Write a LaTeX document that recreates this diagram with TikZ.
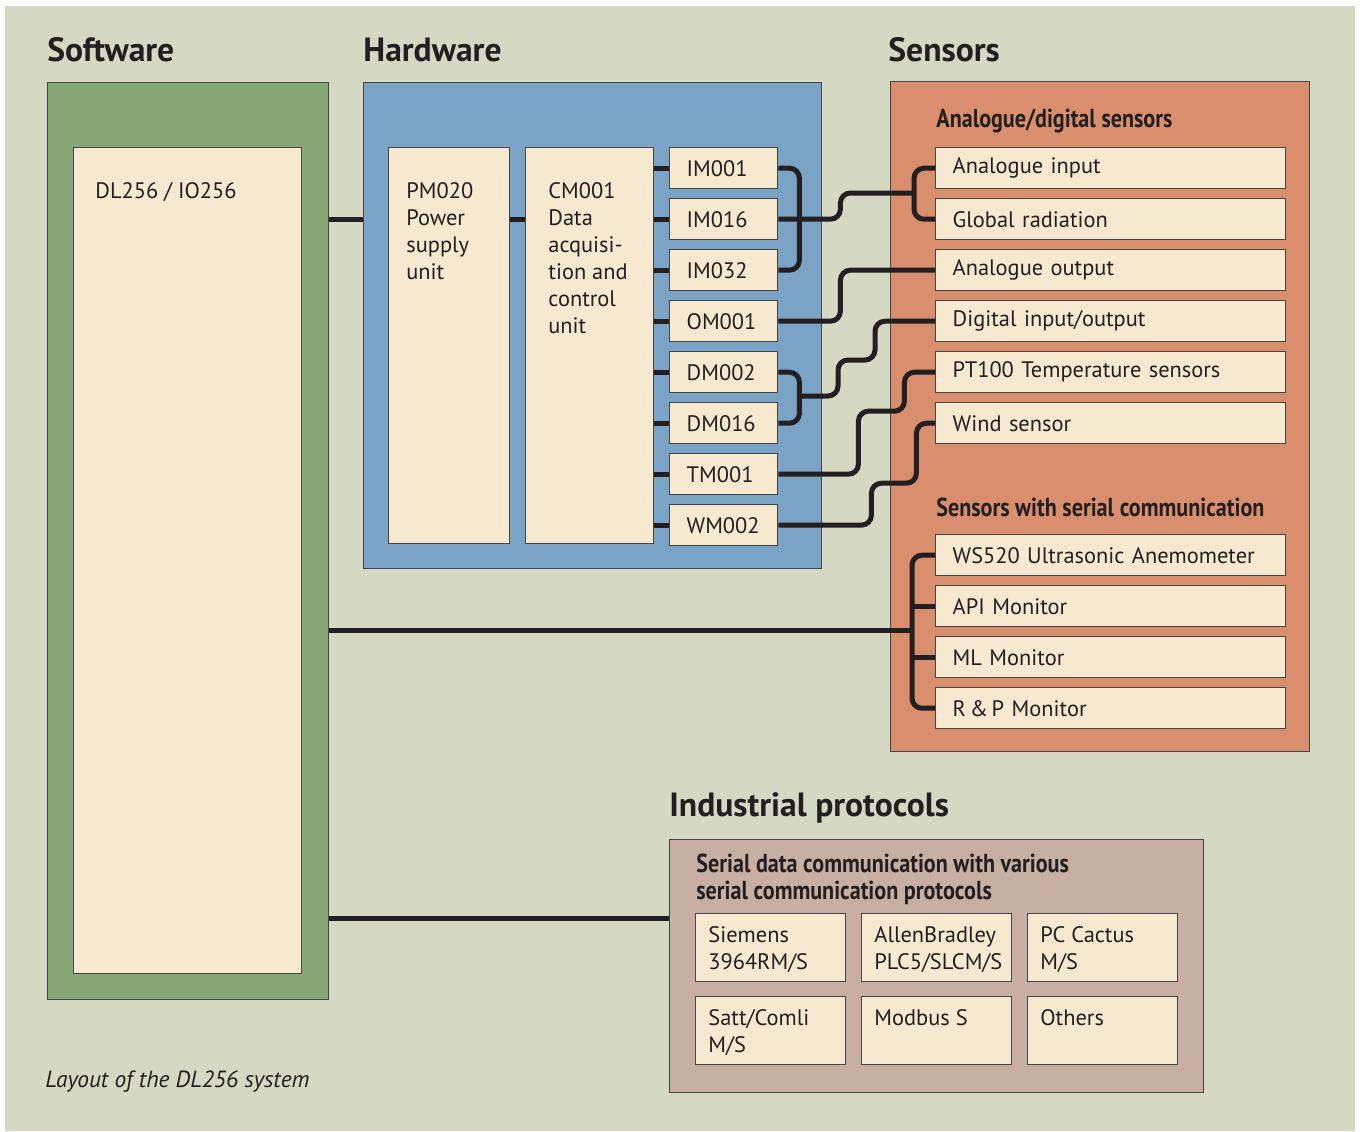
\documentclass[tikz,border=0pt]{standalone}
\usepackage{fontspec}
\setmainfont{PT Sans}
\newfontfamily\condfont[FakeStretch=0.85]{PT Sans}
\usetikzlibrary{positioning}

\definecolor{bggray}{HTML}{D5D8C2}
\definecolor{softgreen}{HTML}{87A876}
\definecolor{hwblue}{HTML}{7AA3C5}
\definecolor{sensorange}{HTML}{D98F6E}
\definecolor{protobrown}{HTML}{C8AFA3}
\definecolor{creamy}{HTML}{F7E8D0}
\definecolor{inkdark}{HTML}{231F20}
\definecolor{edgegray}{HTML}{454545}

\tikzset{
  panel/.style={draw=edgegray, line width=0.7pt, anchor=north west, inner sep=0pt},
  cbox/.style={panel, fill=creamy},
  modbox/.style={cbox, minimum height=20.5pt, text width=37pt, inner xsep=8.5pt, align=left, text=inkdark},
  sensbox/.style={modbox, text width=158pt},
  protobox/.style={cbox, minimum width=75pt, minimum height=34pt},
  lbl/.style={anchor=north west, inner sep=0pt, align=left, text=inkdark},
  heading/.style={anchor=west, inner sep=0pt, text=inkdark, font=\bfseries\fontsize{16.8}{19}\selectfont},
  subheading/.style={anchor=west, inner sep=0pt, text=inkdark, align=left, font=\condfont\bfseries\fontsize{13}{13.5}\selectfont},
  wire/.style={line width=2.5pt, draw=inkdark, rounded corners=5pt}
}

\begin{document}
\begin{tikzpicture}[x=0.5pt, y=-0.5pt, font=\fontsize{11.2}{13.5}\selectfont]
  \useasboundingbox (0,0) rectangle (1360,1131);
  \fill[white] (0,0) rectangle (1360,1131);
  \fill[bggray] (5,6) rectangle (1355,1131);

  % titles
  \node[heading] (t-sw) at (47,50) {Software};
  \node[heading] (t-hw) at (363,50) {Hardware};
  \node[heading] (t-sens) at (888,50) {Sensors};
  \node[heading] (t-ip) at (669,808) {Industrial protocols};

  % software
  \node[panel, fill=softgreen, minimum width=140.5pt, minimum height=458.5pt] (sw) at (47,82) {};
  \node[cbox, minimum width=114pt, minimum height=413pt,
        label={[lbl, xshift=11pt, yshift=-17.5pt]north west:DL256 / IO256}] (dl) at (73,147) {};

  % hardware
  \node[panel, fill=hwblue, minimum width=229pt, minimum height=243pt] (hw) at (363,82) {};
  \node[cbox, minimum width=60.5pt, minimum height=198pt,
        label={[lbl, xshift=9pt, yshift=-17.5pt]north west:{PM020\\Power\\supply\\unit}}] (pm) at (388,147) {};
  \node[cbox, minimum width=64pt, minimum height=198pt,
        label={[lbl, xshift=11.5pt, yshift=-17.5pt]north west:{CM001\\Data\\acquisi-\\tion and\\control\\unit}}] (cm) at (525,147) {};
  \foreach \nm [count=\i from 0] in {IM001,IM016,IM032,OM001,DM002,DM016,TM001,WM002}
    \node[modbox] (mod\i) at (669,147+51*\i) {\nm};

  % sensors
  \node[panel, fill=sensorange, minimum width=209.5pt, minimum height=335pt] (sens) at (890,81) {};
  \node[subheading] (t-ad) at (936,121) {Analogue/digital sensors};
  \foreach \nm [count=\i from 0] in {Analogue input,Global radiation,Analogue output,
      Digital input/output,PT100 Temperature sensors,Wind sensor}
    \node[sensbox] (sen\i) at (935,147+51*\i) {\nm};
  \node[subheading] (t-ser) at (936,507) {Sensors with serial communication};
  \foreach \nm [count=\i from 0] in {WS520 Ultrasonic Anemometer,API Monitor,ML Monitor,R\,\&\,P Monitor}
    \node[sensbox] (ser\i) at (935,534+51*\i) {\nm};

  % industrial protocols
  \node[panel, fill=protobrown, minimum width=267pt, minimum height=126.5pt] (ip) at (669,839) {};
  \node[subheading] (t-proto) at (696,879.5) {Serial data communication with various\\serial communication protocols};
  \node[protobox, label={[lbl, xshift=6.5pt, yshift=-6.5pt]north west:{Siemens\\3964RM/S}}] (p1) at (695,913) {};
  \node[protobox, label={[lbl, xshift=6.5pt, yshift=-6.5pt]north west:{AllenBradley\\PLC5/SLCM/S}}] (p2) at (861,913) {};
  \node[protobox, label={[lbl, xshift=6.5pt, yshift=-6.5pt]north west:{PC Cactus\\M/S}}] (p3) at (1027,913) {};
  \node[protobox, label={[lbl, xshift=6.5pt, yshift=-6.5pt]north west:{Satt/Comli\\M/S}}] (p4) at (695,996) {};
  \node[protobox, label={[lbl, xshift=6.5pt, yshift=-6.5pt]north west:{Modbus S}}] (p5) at (861,996) {};
  \node[protobox, label={[lbl, xshift=6.5pt, yshift=-6.5pt]north west:{Others}}] (p6) at (1027,996) {};

  \node[anchor=west, inner sep=0pt, text=inkdark, font=\itshape\fontsize{11.7}{13}\selectfont] (caption) at (45,1082) {Layout of the DL256 system};

  % links
  \draw[wire] (sw.east |- mod1.west) -- (hw.west |- mod1.west);
  \draw[wire] (pm.east |- mod1.west) -- (cm.west |- mod1.west);
  \foreach \i in {0,...,7}
    \draw[wire] (cm.east |- mod\i.west) -- (mod\i.west);

  \draw[wire] (mod0.east) -- ++(21,0) |- (mod2.east);
  \draw[wire] (mod4.east) -- ++(21,0) |- (mod5.east);
  \draw[wire] (sen0.west) -- ++(-21,0) |- (sen1.west);
  \coordinate (adj) at (914,193);
  \draw[wire] (mod1.east) -- ++(62,0) |- (adj);
  \draw[wire] (mod3.east) -- ++(62,0) |- (sen2.west);
  \coordinate (dmj) at (798,396);
  \draw[wire] (dmj) -- ++(40,0) -- ++(0,-36) -- ++(37,0) |- (sen3.west);
  \draw[wire] (mod6.east) -- ++(80,0) -- ++(0,-63) -- ++(46,0) |- (sen4.west);
  \draw[wire] (mod7.east) -- ++(93,0) -- ++(0,-42) -- ++(45,0) |- (sen5.west);

  \draw[wire] (ser0.west) -- ++(-23,0) |- (ser3.west);
  \draw[wire] (ser1.west) -- ++(-23,0);
  \draw[wire] (ser2.west) -- ++(-23,0);
  \coordinate (serj) at (912,630);
  \draw[wire] (sw.east |- serj) -- (serj);

  \coordinate (ipj) at (669,918);
  \draw[wire] (sw.east |- ipj) -- (ipj);
\end{tikzpicture}
\end{document}
